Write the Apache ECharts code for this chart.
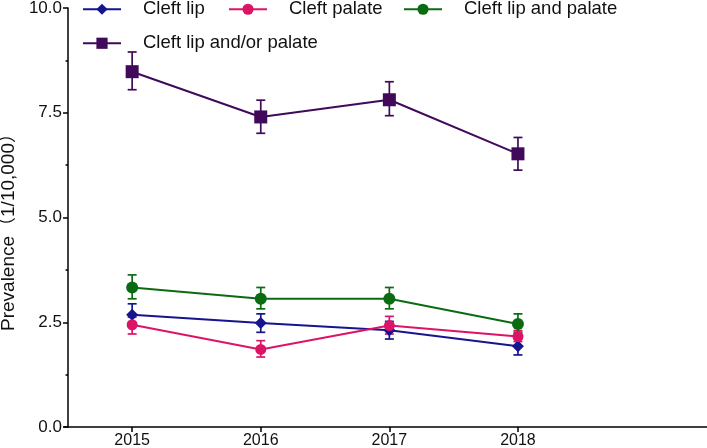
<!DOCTYPE html>
<html>
<head>
<meta charset="utf-8">
<script src="https://cdn.jsdelivr.net/npm/echarts@6/dist/echarts.min.js"></script>
<style>html,body{margin:0;padding:0;background:#fff;}#c{width:707px;height:448px;}</style>
</head>
<body>
<div id="c"></div>
<script>
const years = [2015, 2016, 2017, 2018];
const yTicks = [0, 2.5, 5, 7.5, 10];

const lipMean = [2.68, 2.48, 2.31, 1.93];
const lipLow  = [2.46, 2.26, 2.10, 1.72];
const lipHigh = [2.94, 2.70, 2.52, 2.14];

const palMean = [2.44, 1.85, 2.42, 2.16];
const palLow  = [2.22, 1.67, 2.22, 2.04];
const palHigh = [2.62, 2.06, 2.64, 2.30];

const lpMean = [3.33, 3.06, 3.06, 2.46];
const lpLow  = [3.06, 2.82, 2.82, 2.26];
const lpHigh = [3.63, 3.33, 3.33, 2.70];

const anyMean = [8.48, 7.40, 7.81, 6.52];
const anyLow  = [8.05, 7.01, 7.43, 6.13];
const anyHigh = [8.95, 7.80, 8.24, 6.91];

const names = ['Cleft lip', 'Cleft palate', 'Cleft lip and palate', 'Cleft lip and/or palate'];
const colors = ['#16148f', '#dc1468', '#0b6b12', '#41095a'];
const symbols = ['diamond', 'circle', 'circle', 'rect'];
const sizes = [12, 11, 12, 13];
const means = [lipMean, palMean, lpMean, anyMean];
const lows = [lipLow, palLow, lpLow, anyLow];
const highs = [lipHigh, palHigh, lpHigh, anyHigh];

const FONT = '"Liberation Sans", Arial, "Noto Sans CJK SC", sans-serif';

function errSeries(i) {
  return {
    type: 'custom',
    name: names[i] + ' err',
    z: 3,
    silent: true,
    data: years.map((y, k) => [y, lows[i][k], highs[i][k]]),
    renderItem: function (params, api) {
      const x = api.value(0);
      const lo = api.coord([x, api.value(1)]);
      const hi = api.coord([x, api.value(2)]);
      const w = 4.5;
      const st = { stroke: colors[i], lineWidth: 1.7 };
      return {
        type: 'group',
        children: [
          { type: 'line', shape: { x1: lo[0], y1: lo[1], x2: hi[0], y2: hi[1] }, style: st },
          { type: 'line', shape: { x1: lo[0] - w, y1: lo[1], x2: lo[0] + w, y2: lo[1] }, style: st },
          { type: 'line', shape: { x1: hi[0] - w, y1: hi[1], x2: hi[0] + w, y2: hi[1] }, style: st }
        ]
      };
    }
  };
}

const series = [];
for (let i = 0; i < 4; i++) {
  series.push({
    type: 'line',
    name: names[i],
    z: 4,
    data: years.map((y, k) => [y, means[i][k]]),
    symbol: symbols[i],
    symbolSize: sizes[i],
    showAllSymbol: true,
    lineStyle: { color: colors[i], width: 2 },
    itemStyle: { color: colors[i] },
    emphasis: { disabled: true }
  });
  series.push(errSeries(i));
}

const legendPos = [
  { left: 82, top: 0 },
  { left: 228, top: 0 },
  { left: 403, top: 0 },
  { left: 82, top: 34 }
];

const chart = echarts.init(document.getElementById('c'));
chart.setOption({
  animation: false,
  backgroundColor: '#fff',
  legend: names.map((n, i) => ({
    data: [n],
    left: legendPos[i].left,
    top: legendPos[i].top,
    itemWidth: 38,
    itemHeight: 14,
    padding: 0,
    textStyle: { fontFamily: FONT, fontSize: 18.5, color: '#111', padding: [0, 0, 0, 17] },
    selectedMode: false
  })),
  grid: { left: 64, right: 0, top: 8, bottom: 21, containLabel: false, outerBoundsMode: 'none' },
  xAxis: {
    type: 'value',
    min: 2014.47,
    max: 2019.47,
    axisLine: { lineStyle: { color: '#000', width: 1.5 } },
    axisTick: { show: true, length: 5, customValues: years, lineStyle: { color: '#000', width: 1.5 } },
    axisLabel: { customValues: years, formatter: v => String(v), fontFamily: FONT, fontSize: 16, color: '#111', margin: 6 },
    splitLine: { show: false }
  },
  yAxis: {
    type: 'value',
    min: 0,
    max: 10,
    interval: 2.5,
    offset: -4,
    name: 'Prevalence（1/10,000）',
    nameLocation: 'middle',
    nameGap: 48,
    nameRotate: 90,
    nameTextStyle: { fontFamily: FONT, fontSize: 19, color: '#111', padding: [0, 20, 0, 0] },
    axisLine: { show: true, lineStyle: { color: '#000', width: 1.5 } },
    axisTick: { show: true, length: 5, lineStyle: { color: '#000', width: 1.5 } },
    minorTick: { show: true, splitNumber: 2, length: 2.5, lineStyle: { color: '#000', width: 1.5 } },
    axisLabel: { formatter: v => v.toFixed(1), fontFamily: FONT, fontSize: 17, color: '#111', margin: 6 },
    splitLine: { show: false }
  },
  series: series
});
</script>
</body>
</html>
